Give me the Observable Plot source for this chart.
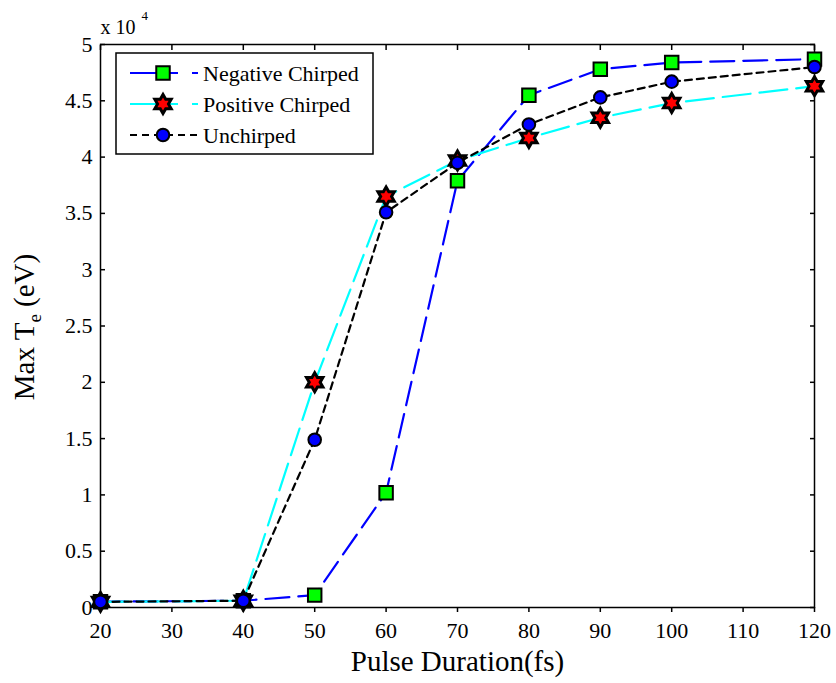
<!DOCTYPE html>
<html>
<head>
<meta charset="utf-8">
<script src="https://cdn.jsdelivr.net/npm/d3@7"></script>
<script src="https://cdn.jsdelivr.net/npm/@observablehq/plot@0.6"></script>
<style>
  body { margin: 0; background: #fff; }
  #chart { position: relative; width: 836px; height: 683px; }
  #chart svg text { font-family: "Liberation Serif", "Times New Roman", serif; }
</style>
</head>
<body>
<div id="chart"></div>
<script>
// Pulse duration (fs) and peak electron temperature (eV) for each chirp case
const durations = [20, 40, 50, 60, 70, 80, 90, 100, 120];
const negativeChirped = [520, 600, 1100, 10200, 37900, 45500, 47800, 48400, 48700];
const positiveChirped = [500, 600, 20000, 36500, 39700, 41700, 43500, 44800, 46300];
const unchirped       = [500, 600, 14900, 35100, 39500, 42900, 45300, 46700, 48000];
const seriesNames = ["Negative Chirped", "Positive Chirped", "Unchirped"];

const xTicks = [20, 30, 40, 50, 60, 70, 80, 90, 100, 110, 120];
const yTicks = [0, 5000, 10000, 15000, 20000, 25000, 30000, 35000, 40000, 45000, 50000];

const rows = (name, values) => durations.map((d, i) => ({duration: d, te: values[i], series: name}));
const negRows = rows(seriesNames[0], negativeChirped);
const posRows = rows(seriesNames[1], positiveChirped);
const unRows = rows(seriesNames[2], unchirped);

// six-pointed star marker
const hexagram = {
  draw(context, size) {
    const R = Math.sqrt(size / Math.PI) * 1.35;
    const r = R / Math.sqrt(3);
    for (let i = 0; i < 12; i++) {
      const a = -Math.PI / 2 + i * Math.PI / 6;
      const rad = i % 2 ? r : R;
      const x = rad * Math.cos(a), y = rad * Math.sin(a);
      if (i === 0) context.moveTo(x, y); else context.lineTo(x, y);
    }
    context.closePath();
  }
};

const styles = {
  neg: {stroke: "#0000ff", dash: "24,9"},
  pos: {stroke: "#00ffff", dash: "28,9"},
  un:  {stroke: "#000000", dash: "7,5"}
};

const fmt = d => String(d / 10000);
const serif = '"Liberation Serif", "Times New Roman", serif';

const plot = Plot.plot({
  width: 836,
  height: 683,
  marginLeft: 100,
  marginRight: 22,
  marginTop: 44,
  marginBottom: 76,
  style: {fontFamily: serif, fontSize: "22px", color: "black", background: "white", overflow: "visible"},
  x: {domain: [20, 120]},
  y: {domain: [0, 50000]},
  marks: [
    Plot.frame({stroke: "black", strokeWidth: 1.5}),
    Plot.axisX({ticks: xTicks, anchor: "bottom", tickSize: -5, tickPadding: 15, strokeWidth: 1.5, fontSize: 22, label: null, tickFormat: d => String(d), dy: 5}),
    Plot.axisX({ticks: xTicks, anchor: "top", tickSize: -5, strokeWidth: 1.5, label: null, tickFormat: () => ""}),
    Plot.axisY({ticks: yTicks, anchor: "left", tickSize: -5, tickPadding: 13, strokeWidth: 1.5, fontSize: 22, label: null, tickFormat: fmt}),
    Plot.axisY({ticks: yTicks, anchor: "right", tickSize: -5, strokeWidth: 1.5, label: null, tickFormat: () => ""}),

    Plot.line(negRows, {x: "duration", y: "te", stroke: styles.neg.stroke, strokeWidth: 2.2, strokeDasharray: styles.neg.dash}),
    Plot.dot(negRows, {x: "duration", y: "te", symbol: "square", r: 7.6, fill: "#00ff00", stroke: "black", strokeWidth: 2}),

    Plot.line(posRows, {x: "duration", y: "te", stroke: styles.pos.stroke, strokeWidth: 2.2, strokeDasharray: styles.pos.dash}),
    Plot.dot(posRows, {x: "duration", y: "te", symbol: hexagram, r: 7, fill: "#ff0000", stroke: "black", strokeWidth: 3, strokeLinejoin: "miter"}),

    Plot.line(unRows, {x: "duration", y: "te", stroke: styles.un.stroke, strokeWidth: 2.2, strokeDasharray: styles.un.dash}),
    Plot.dot(unRows, {x: "duration", y: "te", symbol: "circle", r: 6.3, fill: "#0000ff", stroke: "black", strokeWidth: 2}),

    // axis title and the exponent note
    Plot.text(["Pulse Duration(fs)"], {frameAnchor: "bottom", lineAnchor: "middle", dy: 54, fontSize: 29, text: d => d}),
    Plot.text(["x 10"], {frameAnchor: "top-left", lineAnchor: "middle", textAnchor: "start", dy: -17, dx: 0, fontSize: 20, text: d => d}),
    Plot.text(["4"], {frameAnchor: "top-left", lineAnchor: "middle", textAnchor: "start", dy: -29, dx: 41, fontSize: 13, text: d => d})
  ]
});

const chart = document.getElementById("chart");
chart.appendChild(plot);

// y-axis title with subscript
const svg = d3.select(plot);
const ylab = svg.append("text")
  .attr("transform", "translate(34,327) rotate(-90)")
  .attr("text-anchor", "middle")
  .attr("font-size", 29)
  .attr("fill", "black");
ylab.append("tspan").text("Max T");
ylab.append("tspan").attr("font-size", 19).attr("dy", 7).text("e");
ylab.append("tspan").attr("dy", -7).text(" (eV)");

// legend box
const legend = svg.append("g").attr("transform", "translate(116,53)");
legend.append("rect").attr("width", 257).attr("height", 101).attr("fill", "white").attr("stroke", "black").attr("stroke-width", 1.5);
const entries = [
  {name: seriesNames[0], s: styles.neg, marker: "square"},
  {name: seriesNames[1], s: styles.pos, marker: "hex"},
  {name: seriesNames[2], s: styles.un, marker: "circle"}
];
entries.forEach((e, i) => {
  const y = 20 + i * 31;
  const g = legend.append("g").attr("transform", `translate(0,${y})`);
  g.append("line").attr("x1", 14).attr("x2", 82).attr("y1", 0).attr("y2", 0)
    .attr("stroke", e.s.stroke).attr("stroke-width", 2.2).attr("stroke-dasharray", e.s.dash === "7,5" ? "7,5" : "48,14");
  if (e.marker === "square") {
    g.append("path").attr("d", d3.symbol(d3.symbolSquare, Math.PI * 7.6 * 7.6)()).attr("transform", "translate(47,0)")
      .attr("fill", "#00ff00").attr("stroke", "black").attr("stroke-width", 2);
  } else if (e.marker === "hex") {
    g.append("path").attr("d", d3.symbol(hexagram, Math.PI * 49)()).attr("transform", "translate(47,0)")
      .attr("fill", "#ff0000").attr("stroke", "black").attr("stroke-width", 3);
  } else {
    g.append("circle").attr("cx", 47).attr("cy", 0).attr("r", 6.3)
      .attr("fill", "#0000ff").attr("stroke", "black").attr("stroke-width", 2);
  }
  g.append("text").attr("x", 87).attr("y", 0).attr("dy", "0.35em")
    .attr("text-anchor", "start").attr("font-size", 22).attr("fill", "black").text(e.name);
});
</script>
</body>
</html>
